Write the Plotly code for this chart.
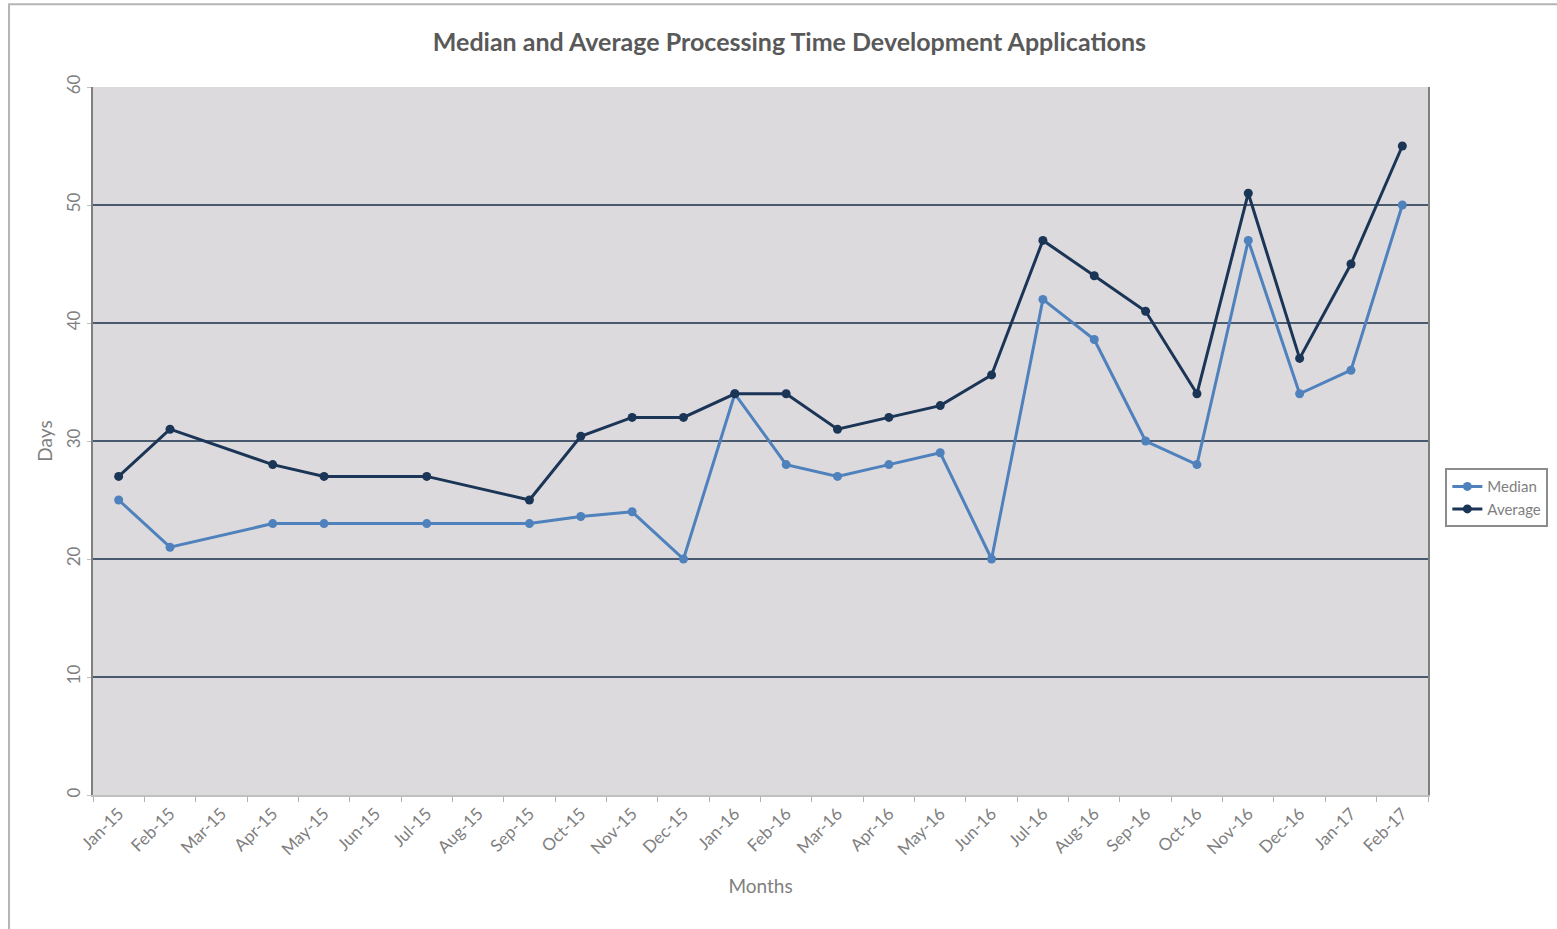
import plotly.graph_objects as go

months = ["Jan-15", "Feb-15", "Mar-15", "Apr-15", "May-15", "Jun-15", "Jul-15",
          "Aug-15", "Sep-15", "Oct-15", "Nov-15", "Dec-15", "Jan-16", "Feb-16",
          "Mar-16", "Apr-16", "May-16", "Jun-16", "Jul-16", "Aug-16", "Sep-16",
          "Oct-16", "Nov-16", "Dec-16", "Jan-17", "Feb-17"]

data_months = ["Jan-15", "Feb-15", "Apr-15", "May-15", "Jul-15", "Sep-15", "Oct-15",
               "Nov-15", "Dec-15", "Jan-16", "Feb-16", "Mar-16", "Apr-16", "May-16",
               "Jun-16", "Jul-16", "Aug-16", "Sep-16", "Oct-16", "Nov-16", "Dec-16",
               "Jan-17", "Feb-17"]

median = [25, 21, 23, 23, 23, 23, 23.6, 24, 20, 34, 28, 27, 28, 29,
          20, 42, 38.6, 30, 28, 47, 34, 36, 50]
average = [27, 31, 28, 27, 27, 25, 30.4, 32, 32, 34, 34, 31, 32, 33,
           35.6, 47, 44, 41, 34, 51, 37, 45, 55]

y_ticks = [0, 10, 20, 30, 40, 50, 60]

# category centre position for each data month
x_pos = [months.index(m) + 0.5 for m in data_months]

FONT = "Lato, 'Open Sans', sans-serif"
GRAY = "#7f7f7f"

fig = go.Figure()
fig.add_trace(go.Scatter(
    x=x_pos, y=median, name="Median", mode="lines+markers",
    line=dict(color="#4f81bd", width=3),
    marker=dict(color="#4f81bd", size=9)))
fig.add_trace(go.Scatter(
    x=x_pos, y=average, name="Average", mode="lines+markers",
    line=dict(color="#1b3557", width=3),
    marker=dict(color="#1b3557", size=9)))

fig.update_layout(
    width=1557, height=929,
    margin=dict(l=93, r=129, t=87, b=134, autoexpand=False),
    paper_bgcolor="white",
    plot_bgcolor="#dddadd",
    font=dict(family=FONT, color=GRAY, size=16),
    title=dict(text="<b>Median and Average Processing Time Development Applications</b>",
               x=0.507, xanchor="center", y=0.955, yanchor="middle",
               font=dict(family=FONT, size=25, color="#595959")),
    showlegend=True,
    legend=dict(x=1.013, y=0.42, xanchor="left", yanchor="middle",
                bgcolor="white", bordercolor="#8c8c8c", borderwidth=2,
                font=dict(size=15, color=GRAY, family=FONT),
                itemwidth=30),
    xaxis=dict(
        range=[0, len(months)],
        tickmode="array",
        tickvals=[i + 0.5 for i in range(len(months))],
        ticktext=months,
        tickangle=-45,
        ticks="",
        showgrid=False, zeroline=False,
        showline=True, linecolor="#c0c0c0", linewidth=2,
        tickfont=dict(size=17, color=GRAY),
        minor=dict(tickmode="array", tickvals=list(range(len(months) + 1)),
                   ticks="outside", ticklen=5, tickcolor="#b0b0b0", tickwidth=1,
                   showgrid=False),
        title=dict(text="Months", font=dict(size=19, color=GRAY), standoff=22),
    ),
    yaxis=dict(
        range=[0, 60],
        tickmode="array", tickvals=y_ticks,
        tickangle=-90,
        ticks="outside", ticklen=4, tickcolor="#c0c0c0",
        showgrid=True, gridcolor="#4a5a6e", gridwidth=1.5,
        zeroline=False,
        showline=True, linecolor="#7f7f7f", linewidth=2, mirror=True,
        tickfont=dict(size=17, color=GRAY),
        title=dict(text="Days", font=dict(size=19, color=GRAY), standoff=6),
    ),
)

# outer chart border
fig.add_shape(type="rect", xref="paper", yref="paper",
              x0=-0.0629, x1=1.2, y0=-0.25, y1=1.117,
              line=dict(color="#b5b5b5", width=2), fillcolor="rgba(0,0,0,0)",
              layer="below")

fig.write_html("out.html")
